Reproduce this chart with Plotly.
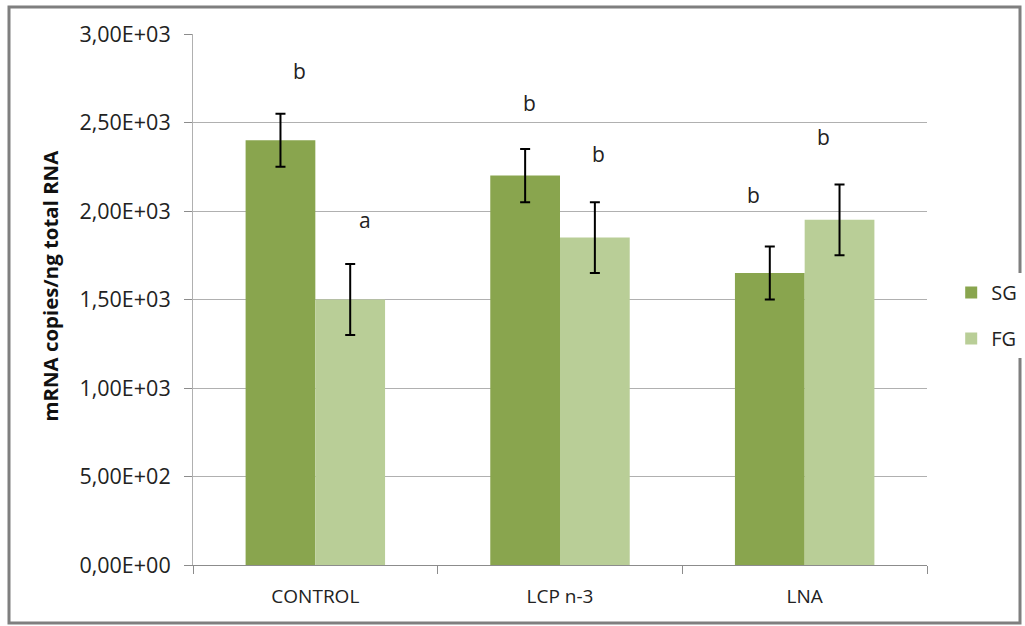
import plotly.graph_objects as go

categories = ["CONTROL", "LCP n-3", "LNA"]
sg_values = [2400, 2200, 1650]
sg_errors = [150, 150, 150]
fg_values = [1500, 1850, 1950]
fg_errors = [200, 200, 200]
sg_letters = ["b", "b", "b"]
fg_letters = ["a", "b", "b"]
sg_letter_y = [2790, 2610, 2090]
fg_letter_y = [1950, 2320, 2420]
tick_vals = [0, 500, 1000, 1500, 2000, 2500, 3000]
tick_text = ["0,00E+00", "5,00E+02", "1,00E+03", "1,50E+03", "2,00E+03", "2,50E+03", "3,00E+03"]

# horizontal offsets (in category units) of the significance letters
sg_letter_dx = [-0.063, -0.123, -0.211]
fg_letter_dx = [0.204, 0.159, 0.075]

FONT = "Open Sans"
W, H = 1025, 626
L, R, T, B = 193, 98, 34, 61
PW, PH = W - L - R, H - T - B


def px_x(fx):
    return (fx - L) / PW


def px_y(fy):
    return (T + PH - fy) / PH


fig = go.Figure()
fig.add_trace(go.Bar(
    name="SG", x=categories, y=sg_values, marker_color="#89A54E", marker_line_width=0,
    legendgroup="sg",
    error_y=dict(type="data", array=sg_errors, color="black", thickness=2, width=5),
))
fig.add_trace(go.Bar(
    name="FG", x=categories, y=fg_values, marker_color="#B9CE97", marker_line_width=0,
    legendgroup="fg",
    error_y=dict(type="data", array=fg_errors, color="black", thickness=2, width=5),
))

for i, (lab, yy, dx) in enumerate(zip(sg_letters, sg_letter_y, sg_letter_dx)):
    fig.add_annotation(x=i + dx, y=yy, text=lab, showarrow=False, xref="x", yref="y",
                       font=dict(family=FONT, size=21, color="#222"))
for i, (lab, yy, dx) in enumerate(zip(fg_letters, fg_letter_y, fg_letter_dx)):
    fig.add_annotation(x=i + dx, y=yy, text=lab, showarrow=False, xref="x", yref="y",
                       font=dict(family=FONT, size=21, color="#222"))

# y axis title (as annotation for exact placement)
fig.add_annotation(x=px_x(49), y=px_y(285.5), xref="paper", yref="paper",
                   text="<b>mRNA copies/ng total RNA</b>", textangle=-90, showarrow=False,
                   xanchor="center", yanchor="middle",
                   font=dict(family=FONT, size=20.4, color="#111"))

# outer frame
fig.add_shape(type="rect", xref="paper", yref="paper",
              x0=px_x(9), x1=px_x(1020), y0=px_y(623), y1=px_y(7),
              line=dict(color="#7f7f7f", width=3), fillcolor="rgba(0,0,0,0)")

fig.update_layout(
    width=W, height=H,
    margin=dict(l=L, r=R, t=T, b=B, autoexpand=False),
    paper_bgcolor="white", plot_bgcolor="white",
    barmode="group", bargap=0.43, bargroupgap=0,
    font=dict(family=FONT, color="#222"),
    legend=dict(xref="container", x=0.928, y=0.47, xanchor="left", yanchor="middle",
                font=dict(family=FONT, size=20), tracegroupgap=17,
                itemwidth=30),
    showlegend=True,
    xaxis=dict(showline=True, linecolor="#8c8c8c", linewidth=1,
               ticks="outside", tickson="boundaries", ticklen=8, tickcolor="#8c8c8c",
               ticklabelstandoff=14,
               tickfont=dict(family=FONT, size=19, color="#222"), showgrid=False),
    yaxis=dict(range=[0, 3000], tickvals=tick_vals, ticktext=tick_text,
               showline=True, linecolor="#b0b0b0", linewidth=1,
               ticks="outside", ticklen=8, tickcolor="#8c8c8c",
               ticklabelstandoff=9,
               gridcolor="#b0b0b0", gridwidth=1, zeroline=False,
               tickfont=dict(family=FONT, size=21.5, color="#222")),
)

fig.write_html("out.html", config={"displayModeBar": False},
               post_script="document.body.style.margin='0px';document.body.style.overflow='hidden';")
